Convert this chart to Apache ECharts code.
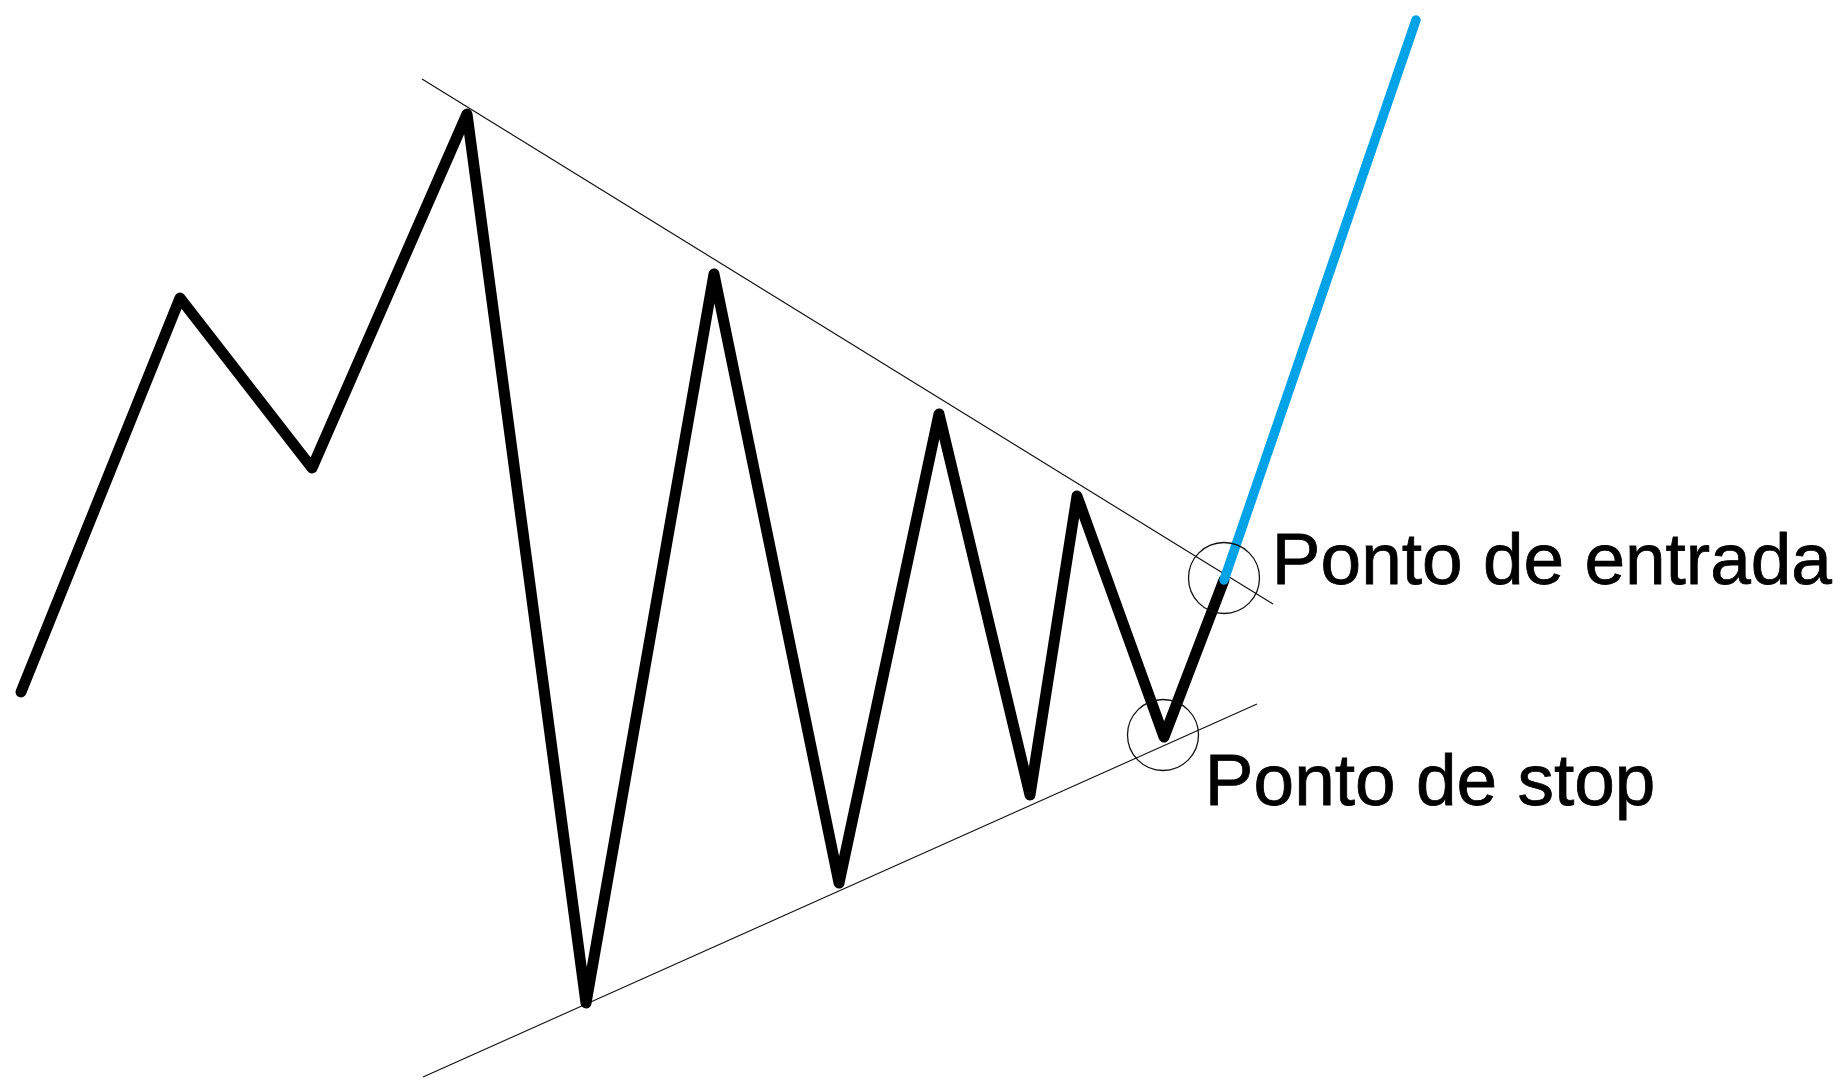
<!DOCTYPE html>
<html>
<head>
<meta charset="utf-8">
<title>Triângulo - ponto de entrada e stop</title>
<script src="https://cdn.jsdelivr.net/npm/echarts@6/dist/echarts.min.js"></script>
<style>
  html, body { margin: 0; padding: 0; background: #fff; }
  #chart { width: 1845px; height: 1081px; }
</style>
</head>
<body>
<div id="chart"></div>
<script>
// preço (zigue-zague preto), em coordenadas do desenho
var priceX = [21, 180, 312, 467, 586, 714, 839, 939, 1030, 1077, 1164, 1224];
var priceY = [692, 298, 468, 114, 1003, 274, 883, 414, 795, 496, 737, 580];

// rompimento (azul)
var breakoutX = [1224, 1416];
var breakoutY = [580, 20];

// linhas de tendência do triângulo
var upperX = [422, 1273];
var upperY = [79, 604];
var lowerX = [423, 1257];
var lowerY = [1077, 704];

// pontos marcados com círculo
var markNames = ['Ponto de entrada', 'Ponto de stop'];
var markX = [1224, 1163];
var markY = [578, 735];

function pairs(xs, ys) {
  var out = [];
  for (var i = 0; i < xs.length; i++) out.push([xs[i], ys[i]]);
  return out;
}

(function () {
  var el = document.getElementById('chart');
  var chart = echarts.init(el, null, { renderer: 'canvas' });

  var ink = '#000000';
  var blue = '#00a2e8';

  // deslocamento do texto a partir do canto do símbolo
  var labelOffsets = [[84, 22], [78, 86]];
  var marks = markNames.map(function (n, i) {
    return {
      name: n,
      value: [markX[i], markY[i]],
      label: { position: labelOffsets[i] }
    };
  });

  chart.setOption({
    animation: false,
    backgroundColor: '#ffffff',
    grid: { left: 0, right: 0, top: 0, bottom: 0 },
    xAxis: { type: 'value', min: 0, max: 1845, show: false },
    yAxis: { type: 'value', min: 0, max: 1081, inverse: true, show: false },
    series: [
      {
        name: 'LTA superior', type: 'line', data: pairs(upperX, upperY),
        symbol: 'none', lineStyle: { color: '#111', width: 1.2 }, z: 1
      },
      {
        name: 'LTA inferior', type: 'line', data: pairs(lowerX, lowerY),
        symbol: 'none', lineStyle: { color: '#111', width: 1.2 }, z: 1
      },
      {
        name: 'preço', type: 'line', data: pairs(priceX, priceY),
        symbol: 'none',
        lineStyle: { color: ink, width: 11, cap: 'round', join: 'round' },
        z: 2
      },
      {
        name: 'rompimento', type: 'line', data: pairs(breakoutX, breakoutY),
        symbol: 'none',
        lineStyle: { color: blue, width: 9.5, cap: 'round', join: 'round' },
        z: 3
      },
      {
        name: 'marcas', type: 'scatter', data: marks,
        symbol: 'circle', symbolSize: 71,
        itemStyle: { color: 'rgba(0,0,0,0)', borderColor: '#111', borderWidth: 1.3, opacity: 1 },
        label: {
          show: true,
          formatter: '{b}',
          align: 'left',
          verticalAlign: 'middle',
          color: ink,
          textBorderColor: ink,
          textBorderWidth: 0.8,
          fontFamily: '"Liberation Sans", Arial, sans-serif',
          fontSize: 73
        },
        z: 4
      }
    ]
  });
})();
</script>
</body>
</html>
